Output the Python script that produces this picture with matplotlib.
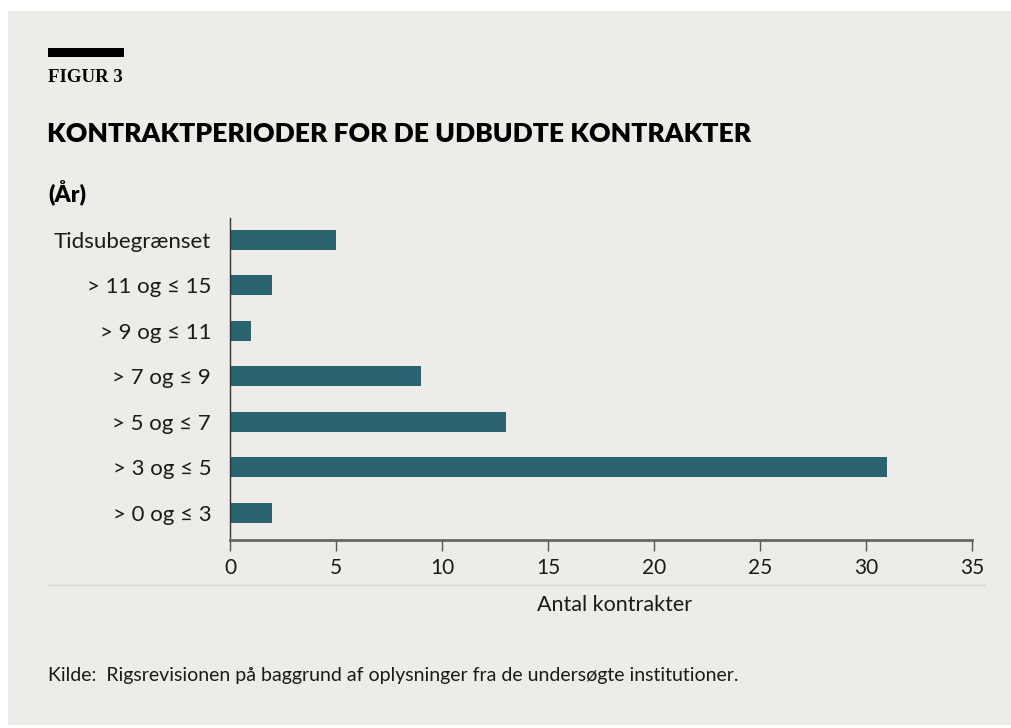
import matplotlib
matplotlib.use("Agg")
import matplotlib.pyplot as plt
from matplotlib.lines import Line2D
from matplotlib.patches import Rectangle

categories = ["> 0 og ≤ 3", "> 3 og ≤ 5", "> 5 og ≤ 7", "> 7 og ≤ 9",
              "> 9 og ≤ 11", "> 11 og ≤ 15", "Tidsubegrænset"]
values = [2, 31, 13, 9, 1, 2, 5]
xticks = [0, 5, 10, 15, 20, 25, 30, 35]

BG = "#EDECE8"
BAR = "#2A6470"
W, H = 1012, 728

fig = plt.figure(figsize=(W / 100, H / 100), dpi=100)
fig.patch.set_facecolor("white")


def fx(px):
    return px / W


def fy(py):
    return 1 - py / H


fig.patches.append(Rectangle((fx(8), fy(725)), 1, fy(11) - fy(725), transform=fig.transFigure,
                             facecolor=BG, edgecolor="none", zorder=-10))
# black bar
fig.patches.append(Rectangle((fx(48), fy(57)), fx(124) - fx(48), fy(48) - fy(57),
                             transform=fig.transFigure, facecolor="black", edgecolor="none"))
fig.text(fx(48), fy(77), "FIGUR 3", fontsize=13.5, fontweight="bold", family="Liberation Serif",
         va="center", ha="left")
fig.text(fx(47), fy(134), "KONTRAKTPERIODER FOR DE UDBUDTE KONTRAKTER", fontsize=19.1,
         fontweight="heavy", family="Lato", va="center", ha="left")
fig.text(fx(48), fy(193), "(År)", fontsize=16.5, fontweight="heavy", family="Lato",
         va="center", ha="left")

ax = fig.add_axes([fx(230), fy(540), fx(972) - fx(230), fy(218) - fy(540)])
ax.set_facecolor("none")
ypos = list(range(len(categories)))
ax.barh(ypos, values, height=0.44, color=BAR)
ax.set_xlim(0, 35)
ax.set_ylim(-0.6, 6.48)
ax.set_yticks(ypos)
ax.set_yticklabels(categories, fontsize=16, family=["Lato", "DejaVu Sans"], color="#1a1a1a")
ax.set_xticks(xticks)
ax.set_xticklabels([str(t) for t in xticks], fontsize=15, family="Lato", color="#1a1a1a")
ax.tick_params(axis="y", length=0, pad=13.5)
ax.tick_params(axis="x", length=8, width=1, color="#555555", pad=5)
for s in ["top", "right"]:
    ax.spines[s].set_visible(False)
ax.spines["left"].set_color("#333333")
ax.spines["left"].set_linewidth(1)
ax.spines["bottom"].set_color("#666666")
ax.spines["bottom"].set_linewidth(2)

fig.add_artist(Line2D([fx(48), fx(985)], [fy(585), fy(585)], transform=fig.transFigure,
                      color="#d6d6d4", linewidth=1))
fig.text(fx(615), fy(605), "Antal kontrakter", fontsize=15.5, family="Lato",
         va="center", ha="center", color="#1a1a1a")
fig.text(fx(48), fy(675), "Kilde:  Rigsrevisionen på baggrund af oplysninger fra de undersøgte institutioner.",
         fontsize=14, family="Lato", va="center", ha="left", color="#1a1a1a")

fig.savefig("out.png", dpi=100, facecolor=fig.get_facecolor())
